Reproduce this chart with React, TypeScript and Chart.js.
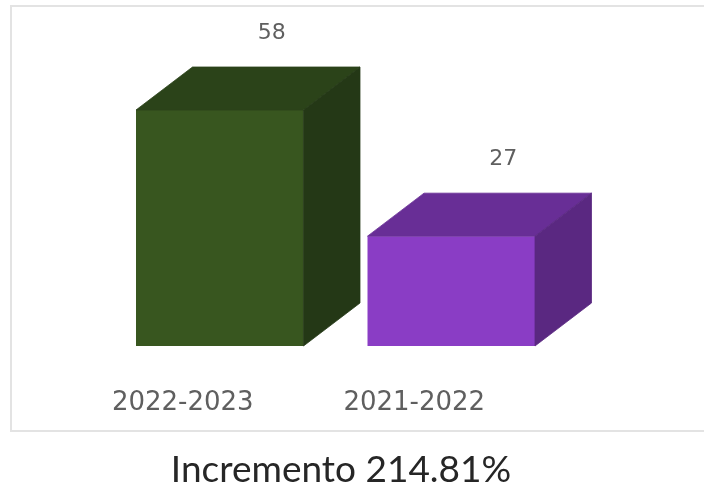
import React, { useEffect, useRef } from 'react';
import { Chart, registerables } from 'chart.js';

Chart.register(...registerables);

const categories = ['2022-2023', '2021-2022'];
const values = [58, 27];
const frontColors = ['#38561F', '#8A3DC5'];
const topColors = ['#2B4319', '#682E96'];
const sideColors = ['#243816', '#5A2881'];
const titleText = 'Incremento 214.81%';

const DEPTH_X = 56.5;
const DEPTH_Y = -43;

const threeDPlugin = {
  id: 'threeD',
  afterDatasetsDraw(chart: any) {
    const ctx = chart.ctx;
    const meta = chart.getDatasetMeta(0);
    const xScale = chart.scales.x;
    meta.data.forEach((bar: any, i: number) => {
      const { x, y, base, width } = bar.getProps(['x', 'y', 'base', 'width'], true);
      const l = x - width / 2;
      const r = x + width / 2;
      ctx.save();
      ctx.lineWidth = 0.8;
      ctx.lineJoin = 'round';
      // top face
      ctx.fillStyle = topColors[i];
      ctx.strokeStyle = topColors[i];
      ctx.beginPath();
      ctx.moveTo(l, y);
      ctx.lineTo(l + DEPTH_X, y + DEPTH_Y);
      ctx.lineTo(r + DEPTH_X, y + DEPTH_Y);
      ctx.lineTo(r, y);
      ctx.closePath();
      ctx.fill();
      ctx.stroke();
      // side face
      ctx.fillStyle = sideColors[i];
      ctx.strokeStyle = sideColors[i];
      ctx.beginPath();
      ctx.moveTo(r, y);
      ctx.lineTo(r + DEPTH_X, y + DEPTH_Y);
      ctx.lineTo(r + DEPTH_X, base + DEPTH_Y);
      ctx.lineTo(r, base);
      ctx.closePath();
      ctx.fill();
      ctx.stroke();
      // value label
      ctx.fillStyle = '#5f5f5f';
      ctx.font = '22px "DejaVu Sans"';
      ctx.textAlign = 'center';
      ctx.textBaseline = 'alphabetic';
      ctx.fillText(String(values[i]), x + 52, y - 71);
      // category label
      ctx.font = '26px "DejaVu Sans"';
      ctx.fillText(categories[i], xScale.getPixelForValue(i) - 37, 410);
      ctx.restore();
    });
    ctx.save();
    ctx.fillStyle = '#262626';
    ctx.font = '37px Lato';
    ctx.textAlign = 'center';
    ctx.textBaseline = 'alphabetic';
    ctx.fillText(titleText, 341, 482);
    ctx.restore();
  },
};

export default function App() {
  const canvasRef = useRef<HTMLCanvasElement | null>(null);

  useEffect(() => {
    if (!canvasRef.current) return;
    const chart = new Chart(canvasRef.current, {
      type: 'bar',
      data: {
        labels: categories,
        datasets: [
          {
            data: values,
            backgroundColor: frontColors,
            borderWidth: 0,
            barPercentage: 1,
            categoryPercentage: 0.7235,
          },
        ],
      },
      options: {
        responsive: false,
        animation: false,
        devicePixelRatio: 1,
        layout: { padding: { left: 104, right: 137, top: 20.5, bottom: 143 } },
        plugins: {
          legend: { display: false },
          title: { display: false },
          tooltip: { enabled: false },
        },
        scales: {
          x: { display: false },
          y: { display: false, min: 0, max: 80 },
        },
      },
      plugins: [threeDPlugin],
    });
    return () => chart.destroy();
  }, []);

  return (
    <div style={{ position: 'absolute', left: 0, top: 0, width: 704, height: 489, background: '#fff', overflow: 'hidden' }}>
      <div
        style={{
          position: 'absolute',
          left: 10,
          top: 5,
          width: 710,
          height: 427,
          border: '2px solid #e3e3e3',
          boxSizing: 'border-box',
        }}
      />
      <canvas ref={canvasRef} width={704} height={489} style={{ position: 'absolute', left: 0, top: 0 }} />
    </div>
  );
}
